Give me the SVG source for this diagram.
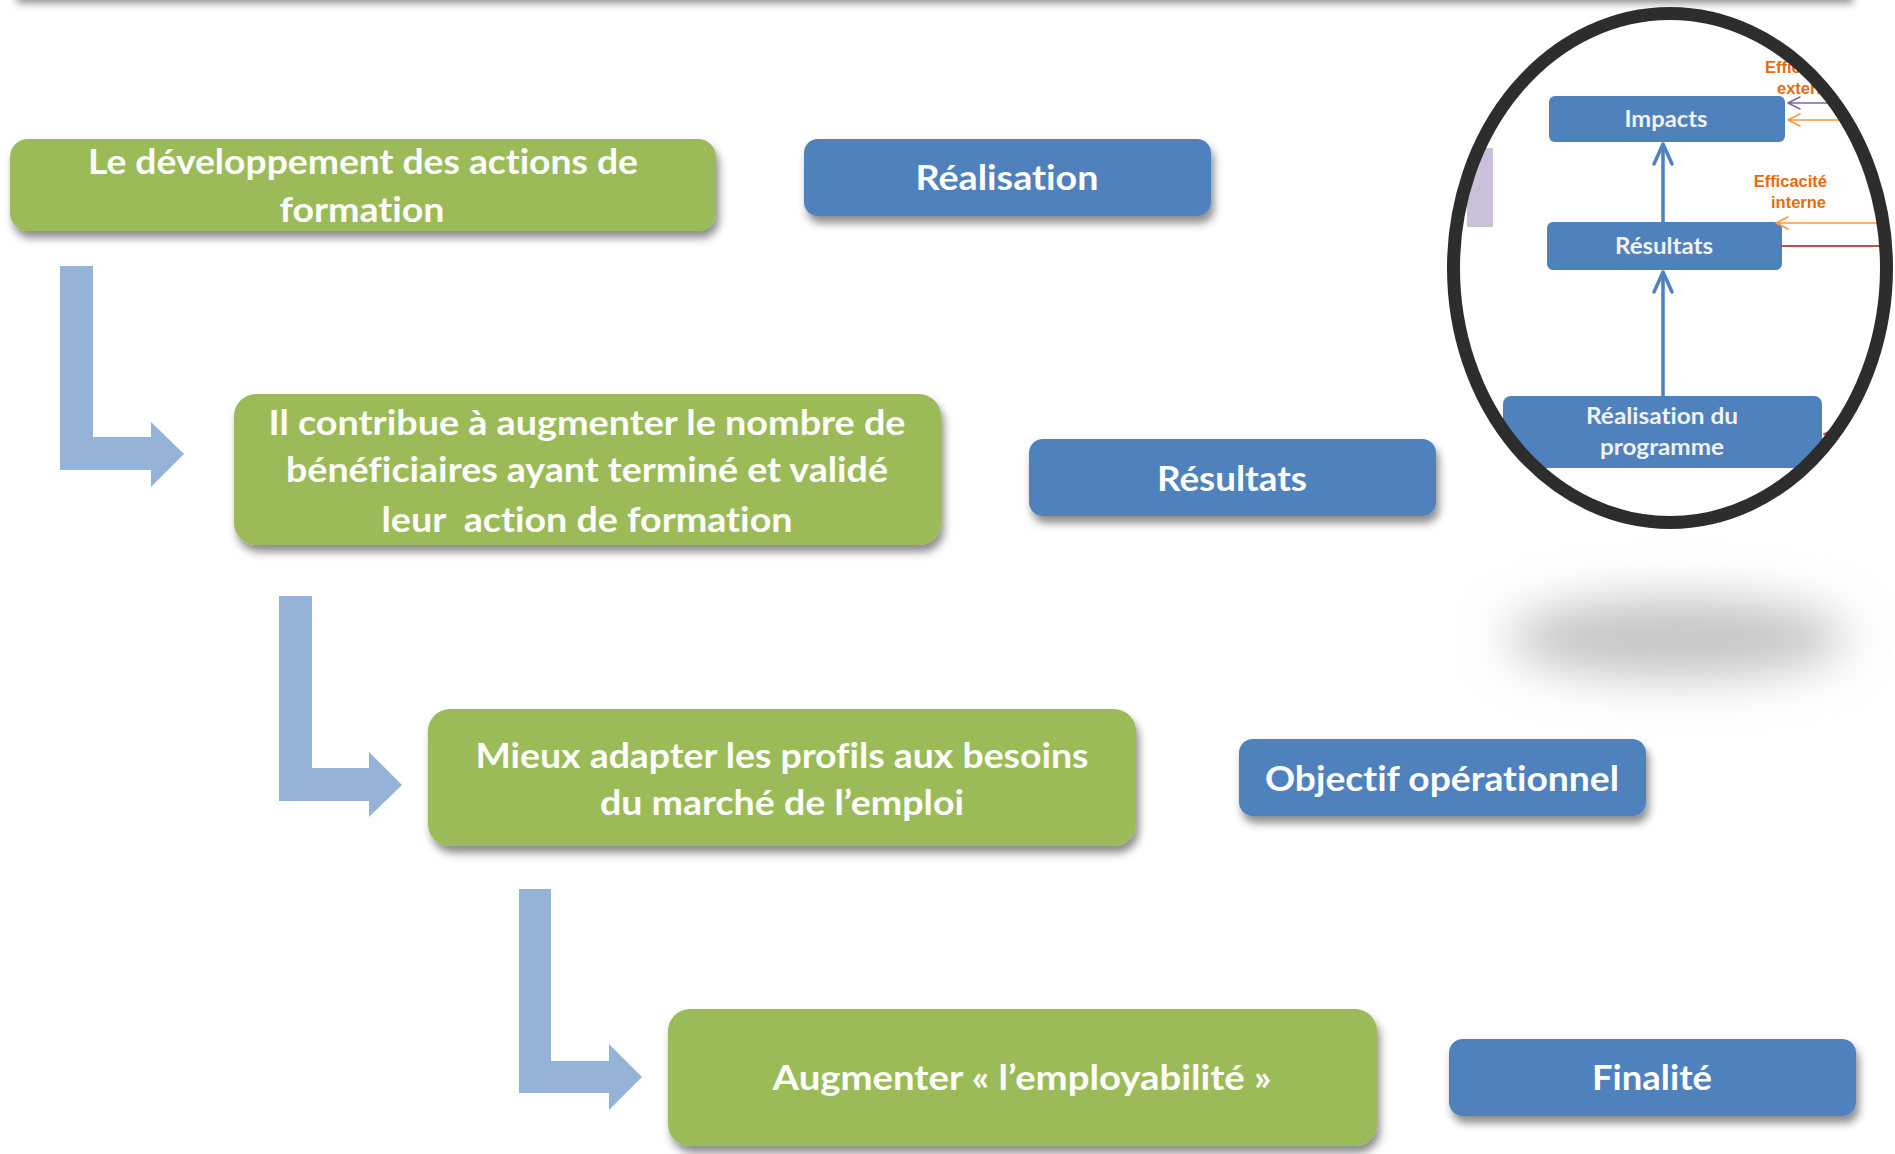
<svg xmlns="http://www.w3.org/2000/svg" width="1895" height="1154" viewBox="0 0 1895 1154">
<style>
  .green { fill: #9BBB59; }
  .blue { fill: #4F81BD; }
  .bent { fill: #95B3D7; }
  text { font-variant-ligatures: none; font-feature-settings: "liga" 0, "clig" 0, "dlig" 0; }
  .gt { font-family: Lato, "Open Sans", "Liberation Sans", sans-serif; font-weight: bold; font-size: 34px; fill: #FFFFFF; text-anchor: middle; white-space: pre; }
  .bt { font-family: Lato, "Open Sans", "Liberation Sans", sans-serif; font-weight: bold; font-size: 35px; fill: #FFFFFF; text-anchor: middle; }
  .it { font-family: Lato, "Open Sans", "Liberation Sans", sans-serif; font-weight: bold; font-size: 22px; fill: #F2F2F2; text-anchor: middle; }
  .ot { font-family: "Liberation Sans", Arial, sans-serif; font-weight: bold; font-size: 16.5px; fill: #E46C0A; }
  .chev { fill: none; stroke-linecap: round; stroke-linejoin: round; }
</style>
<defs>
  <filter id="shadow" x="-10%" y="-30%" width="120%" height="170%">
    <feDropShadow dx="3" dy="7" stdDeviation="4" flood-color="#000000" flood-opacity="0.45"/>
  </filter>
  <filter id="blob" x="-50%" y="-150%" width="200%" height="400%">
    <feGaussianBlur stdDeviation="24"/>
  </filter>
  <clipPath id="lensClip">
    <ellipse cx="1670" cy="268" rx="212" ry="250"/>
  </clipPath>
</defs>

<rect x="0" y="0" width="1895" height="1154" fill="#FFFFFF"/>

<!-- top shadow band from an off-canvas shape -->
<rect x="14" y="-50" width="1836" height="46" fill="#FFFFFF" filter="url(#shadow)"/>

<!-- lens shadow -->
<ellipse cx="1677" cy="638" rx="170" ry="40" fill="#C4C4C4" filter="url(#blob)"/>

<!-- connectors: bent arrows -->
<g id="connectors">
  <polygon class="bent" points="60,266 93,266 93,437 151,437 151,422 184,454 151,487 151,470 60,470"/>
  <polygon class="bent" points="279,596 312,596 312,768 369,768 369,752 402,785 369,817 369,801 279,801"/>
  <polygon class="bent" points="519,889 551,889 551,1061 609,1061 609,1044 642,1077 609,1110 609,1093 519,1093"/>
</g>

<!-- green nodes -->
<g id="node-developpement">
  <rect class="green" x="10" y="139" width="706" height="92" rx="18" filter="url(#shadow)"/>
  <text class="gt" x="363" y="174" textLength="550" lengthAdjust="spacingAndGlyphs">Le développement des actions de</text>
  <text class="gt" x="362" y="222" textLength="165" lengthAdjust="spacingAndGlyphs">formation</text>
</g>
<g id="node-contribue">
  <rect class="green" x="234" y="394" width="707" height="151" rx="22" filter="url(#shadow)"/>
  <text class="gt" x="587" y="435" textLength="637" lengthAdjust="spacingAndGlyphs">Il contribue à augmenter le nombre de</text>
  <text class="gt" x="587" y="482" textLength="602" lengthAdjust="spacingAndGlyphs">bénéficiaires ayant terminé et validé</text>
  <text class="gt" x="587" y="532" textLength="411" lengthAdjust="spacingAndGlyphs">leur  action de formation</text>
</g>
<g id="node-adapter">
  <rect class="green" x="428" y="709" width="708" height="137" rx="22" filter="url(#shadow)"/>
  <text class="gt" x="782" y="768" textLength="613" lengthAdjust="spacingAndGlyphs">Mieux adapter les profils aux besoins</text>
  <text class="gt" x="782" y="815" textLength="364" lengthAdjust="spacingAndGlyphs">du marché de l’emploi</text>
</g>
<g id="node-employabilite">
  <rect class="green" x="668" y="1009" width="709" height="137" rx="22" filter="url(#shadow)"/>
  <text class="gt" x="1022" y="1090" textLength="499" lengthAdjust="spacingAndGlyphs">Augmenter « l’employabilité »</text>
</g>

<!-- blue nodes -->
<g id="node-realisation">
  <rect class="blue" x="804" y="139" width="407" height="77" rx="14" filter="url(#shadow)"/>
  <text class="bt" x="1007" y="190" textLength="183" lengthAdjust="spacingAndGlyphs">Réalisation</text>
</g>
<g id="node-resultats">
  <rect class="blue" x="1029" y="439" width="407" height="77" rx="14" filter="url(#shadow)"/>
  <text class="bt" x="1232" y="491" textLength="150" lengthAdjust="spacingAndGlyphs">Résultats</text>
</g>
<g id="node-objectif">
  <rect class="blue" x="1239" y="739" width="407" height="77" rx="14" filter="url(#shadow)"/>
  <text class="bt" x="1442" y="791" textLength="354" lengthAdjust="spacingAndGlyphs">Objectif opérationnel</text>
</g>
<g id="node-finalite">
  <rect class="blue" x="1449" y="1039" width="407" height="77" rx="14" filter="url(#shadow)"/>
  <text class="bt" x="1652" y="1090" textLength="120" lengthAdjust="spacingAndGlyphs">Finalité</text>
</g>

<!-- magnifier lens -->
<g id="lens">
  <ellipse cx="1670" cy="268" rx="214" ry="252" fill="#FFFFFF"/>
  <g clip-path="url(#lensClip)">
    <rect x="1467" y="148" width="26" height="79" fill="#CBC0DA"/>
    <g id="lens-impacts">
      <rect class="blue" x="1549" y="96" width="236" height="46" rx="6"/>
      <text class="it" x="1666" y="127" textLength="83" lengthAdjust="spacingAndGlyphs">Impacts</text>
    </g>
    <g id="lens-resultats">
      <rect class="blue" x="1547" y="222" width="235" height="48" rx="6"/>
      <text class="it" x="1664" y="254" textLength="98" lengthAdjust="spacingAndGlyphs">Résultats</text>
    </g>
    <g id="lens-realisation">
      <rect class="blue" x="1503" y="396" width="319" height="72" rx="8"/>
      <text class="it" x="1662" y="424" textLength="152" lengthAdjust="spacingAndGlyphs">Réalisation du</text>
      <text class="it" x="1662" y="455" textLength="124" lengthAdjust="spacingAndGlyphs">programme</text>
    </g>
    <g id="lens-connectors">
      <line x1="1663" y1="222" x2="1663" y2="145" stroke="#4F81BD" stroke-width="3.5"/>
      <path class="chev" d="M1654,164 L1663,144 L1672,164" stroke="#4F81BD" stroke-width="3.5"/>
      <line x1="1663" y1="396" x2="1663" y2="273" stroke="#4F81BD" stroke-width="3.5"/>
      <path class="chev" d="M1654,292 L1663,272 L1672,292" stroke="#4F81BD" stroke-width="3.5"/>
      <path class="chev" d="M1788,103 H1900 M1800,97 L1788,103 L1800,109" stroke="#8064A2" stroke-width="1.6"/>
      <path class="chev" d="M1788,120 H1900 M1800,114 L1788,120 L1800,126" stroke="#F79646" stroke-width="1.6"/>
      <path class="chev" d="M1776,223 H1900 M1788,217 L1776,223 L1788,229" stroke="#F79646" stroke-width="1.6"/>
      <path class="chev" d="M1782,246 H1884 V434 H1824 M1836,428 L1824,434 L1836,440" stroke="#C0504D" stroke-width="1.8"/>
    </g>
    <text class="ot" x="1765" y="73">Efficacité</text>
    <text class="ot" x="1777" y="94">externe</text>
    <text class="ot" x="1827" y="187" text-anchor="end">Efficacité</text>
    <text class="ot" x="1826" y="208" text-anchor="end">interne</text>
  </g>
  <ellipse cx="1670" cy="268" rx="216.5" ry="254.5" fill="none" stroke="#2D2D2D" stroke-width="13"/>
</g>
</svg>
